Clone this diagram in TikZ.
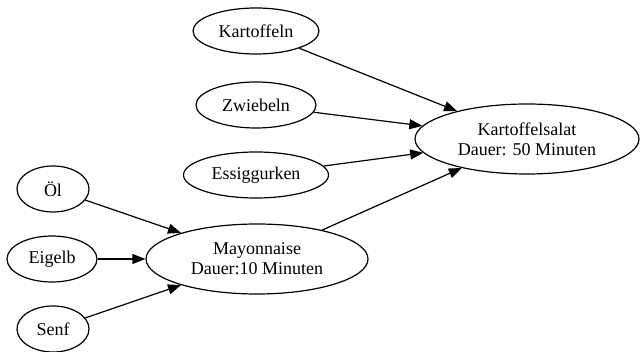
\documentclass[tikz,border=0pt]{standalone}
\usepackage{fontspec}
\setmainfont{Liberation Serif}
\usetikzlibrary{shapes.geometric,arrows.meta}

\begin{document}
\begin{tikzpicture}[x=1pt, y=-1pt,
    font=\fontsize{18}{20}\selectfont,
    zutat/.style={draw, ellipse, line width=1.2pt, inner sep=0pt, minimum height=46pt},
    gericht/.style={zutat, minimum height=70pt, align=center},
    pfeil/.style={-{Triangle[length=13pt, width=10pt]}, line width=1.2pt}]
    \useasboundingbox (0,0) rectangle (641,352);

    % Kartoffelsalat (Ziel)
    \node[gericht, minimum width=224pt] (salat) at (527,139) {Kartoffelsalat\\Dauer: 50 Minuten};
    \node[zutat, minimum width=126pt] (kartoffeln) at (256,31) {Kartoffeln};
    \node[zutat, minimum width=120pt] (zwiebeln) at (256,105) {Zwiebeln};
    \node[zutat, minimum width=145pt] (gurken) at (256,175) {Essiggurken};

    % Mayonnaise
    \node[gericht, minimum width=222pt] (mayo) at (257,259) {Mayonnaise\\Dauer:10 Minuten};
    \node[zutat, minimum width=72pt] (oel) at (53,189) {Öl};
    \node[zutat, minimum width=90pt] (eigelb) at (52,259) {Eigelb};
    \node[zutat, minimum width=72pt] (senf) at (53,329) {Senf};

    % Pfeile
    \draw[pfeil] (kartoffeln) -- (salat);
    \draw[pfeil] (zwiebeln) -- (salat);
    \draw[pfeil] (gurken) -- (salat);
    \draw[pfeil] (mayo) -- (salat);
    \draw[pfeil] (oel) -- (mayo);
    \draw[pfeil] (eigelb) -- (mayo);
    \draw[pfeil] (senf) -- (mayo);
\end{tikzpicture}
\end{document}
